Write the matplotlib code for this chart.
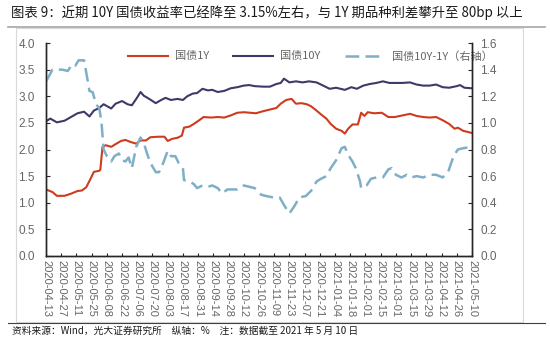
import matplotlib
matplotlib.use("Agg")
import matplotlib.pyplot as plt
from matplotlib.patches import Rectangle
from matplotlib.lines import Line2D
import pandas as pd

plt.rcParams['font.family'] = ['Noto Sans CJK SC', 'DejaVu Sans']

# ---- data ----
dates_10y = ['2020-04-13', '2020-04-17', '2020-04-23', '2020-04-30', '2020-05-06', '2020-05-12',
             '2020-05-18', '2020-05-23', '2020-05-27', '2020-06-01', '2020-06-05', '2020-06-12',
             '2020-06-16', '2020-06-22', '2020-06-27', '2020-07-01', '2020-07-06', '2020-07-09',
             '2020-07-12', '2020-07-17', '2020-07-23', '2020-07-28', '2020-08-01', '2020-08-06',
             '2020-08-12', '2020-08-17', '2020-08-21', '2020-08-26', '2020-08-30', '2020-09-04',
             '2020-09-09', '2020-09-13', '2020-09-18', '2020-09-24', '2020-09-30', '2020-10-06',
             '2020-10-12', '2020-10-17', '2020-10-22', '2020-10-30', '2020-11-05', '2020-11-11',
             '2020-11-15', '2020-11-18', '2020-11-23', '2020-11-29', '2020-12-05', '2020-12-11',
             '2020-12-18', '2020-12-24', '2020-12-30', '2021-01-05', '2021-01-13', '2021-01-19',
             '2021-01-24', '2021-01-30', '2021-02-05', '2021-02-11', '2021-02-17', '2021-02-23',
             '2021-03-01', '2021-03-07', '2021-03-14', '2021-03-20', '2021-03-26', '2021-04-01',
             '2021-04-07', '2021-04-13', '2021-04-19', '2021-04-26', '2021-04-29', '2021-05-03',
             '2021-05-10']
gz_10y = [2.53, 2.58, 2.51, 2.54, 2.61, 2.68, 2.71, 2.62, 2.73, 2.78, 2.85, 2.77,
          2.86, 2.91, 2.85, 2.83, 2.98, 3.08, 3.01, 2.95, 2.87, 2.93, 2.97, 2.93,
          2.95, 2.93, 3.00, 3.05, 3.06, 3.14, 3.11, 3.12, 3.08, 3.10, 3.15, 3.17,
          3.20, 3.21, 3.19, 3.18, 3.18, 3.23, 3.25, 3.33, 3.26, 3.28, 3.26, 3.28,
          3.26, 3.20, 3.14, 3.16, 3.12, 3.17, 3.14, 3.20, 3.23, 3.25, 3.28, 3.25,
          3.25, 3.25, 3.26, 3.22, 3.20, 3.20, 3.22, 3.17, 3.16, 3.19, 3.21, 3.16,
          3.15]

dates_1y = ['2020-04-13', '2020-04-19', '2020-04-23', '2020-04-30', '2020-05-06', '2020-05-12',
            '2020-05-16', '2020-05-20', '2020-05-24', '2020-05-27', '2020-06-01', '2020-06-02',
            '2020-06-04', '2020-06-07', '2020-06-12', '2020-06-16', '2020-06-21', '2020-06-25',
            '2020-06-30', '2020-07-05', '2020-07-09', '2020-07-14', '2020-07-18', '2020-07-25',
            '2020-07-31', '2020-08-03', '2020-08-07', '2020-08-12', '2020-08-16', '2020-08-18',
            '2020-08-23', '2020-08-27', '2020-09-01', '2020-09-05', '2020-09-12', '2020-09-18',
            '2020-09-24', '2020-09-30', '2020-10-06', '2020-10-12', '2020-10-18', '2020-10-23',
            '2020-10-30', '2020-11-05', '2020-11-11', '2020-11-15', '2020-11-20', '2020-11-25',
            '2020-11-29', '2020-12-04', '2020-12-09', '2020-12-13', '2020-12-18', '2020-12-22',
            '2020-12-27', '2020-12-31', '2021-01-05', '2021-01-10', '2021-01-13', '2021-01-16',
            '2021-01-20', '2021-01-25', '2021-01-28', '2021-01-31', '2021-02-03', '2021-02-09',
            '2021-02-16', '2021-02-22', '2021-02-28', '2021-03-07', '2021-03-14', '2021-03-20',
            '2021-03-26', '2021-04-01', '2021-04-07', '2021-04-13', '2021-04-19', '2021-04-24',
            '2021-04-27', '2021-05-02', '2021-05-10']
gz_1y = [1.25, 1.20, 1.13, 1.13, 1.17, 1.22, 1.23, 1.29, 1.45, 1.58, 1.60, 1.62,
         2.05, 2.08, 2.05, 2.10, 2.16, 2.18, 2.14, 2.11, 2.17, 2.17, 2.23, 2.24,
         2.24, 2.16, 2.20, 2.22, 2.26, 2.41, 2.43, 2.48, 2.55, 2.61, 2.60, 2.61,
         2.60, 2.64, 2.69, 2.70, 2.69, 2.68, 2.72, 2.75, 2.78, 2.86, 2.93, 2.95,
         2.86, 2.87, 2.85, 2.81, 2.73, 2.66, 2.58, 2.48, 2.39, 2.35, 2.30, 2.39,
         2.47, 2.47, 2.69, 2.63, 2.70, 2.68, 2.69, 2.61, 2.61, 2.64, 2.67, 2.63,
         2.61, 2.60, 2.61, 2.55, 2.48, 2.39, 2.41, 2.35, 2.31]

dates_spread = ['2020-04-13', '2020-04-19', '2020-04-23', '2020-04-28', '2020-05-03', '2020-05-07',
                '2020-05-10', '2020-05-13', '2020-05-18', '2020-05-20', '2020-05-23', '2020-05-26',
                '2020-05-29', '2020-06-01', '2020-06-03', '2020-06-05', '2020-06-08', '2020-06-12',
                '2020-06-15', '2020-06-19', '2020-06-22', '2020-06-25', '2020-06-28', '2020-07-01',
                '2020-07-05', '2020-07-09', '2020-07-12', '2020-07-15', '2020-07-18', '2020-07-23',
                '2020-07-26', '2020-07-29', '2020-08-03', '2020-08-06', '2020-08-10', '2020-08-13',
                '2020-08-17', '2020-08-18', '2020-08-23', '2020-08-27', '2020-08-30', '2020-09-04',
                '2020-09-09', '2020-09-13', '2020-09-18', '2020-09-22', '2020-09-27', '2020-10-02',
                '2020-10-06', '2020-10-12', '2020-10-17', '2020-10-22', '2020-10-28', '2020-11-02',
                '2020-11-08', '2020-11-14', '2020-11-19', '2020-11-23', '2020-11-28', '2020-12-02',
                '2020-12-08', '2020-12-13', '2020-12-18', '2020-12-22', '2020-12-27', '2020-12-31',
                '2021-01-05', '2021-01-10', '2021-01-13', '2021-01-16', '2021-01-20', '2021-01-23',
                '2021-01-27', '2021-01-28', '2021-02-02', '2021-02-06', '2021-02-11', '2021-02-17',
                '2021-02-22', '2021-02-25', '2021-03-01', '2021-03-06', '2021-03-11', '2021-03-15',
                '2021-03-20', '2021-03-26', '2021-04-01', '2021-04-07', '2021-04-13', '2021-04-18',
                '2021-04-23', '2021-04-27', '2021-05-02', '2021-05-10']
spread = [1.31, 1.40, 1.40, 1.40, 1.39, 1.44, 1.43, 1.47, 1.47, 1.38, 1.24, 1.23,
          1.14, 1.11, 1.01, 0.80, 0.75, 0.71, 0.75, 0.77, 0.72, 0.71, 0.74, 0.66,
          0.82, 0.89, 0.85, 0.77, 0.70, 0.63, 0.63, 0.68, 0.79, 0.75, 0.75, 0.70,
          0.66, 0.57, 0.56, 0.54, 0.51, 0.53, 0.52, 0.53, 0.51, 0.47, 0.50, 0.50,
          0.50, 0.53, 0.52, 0.51, 0.46, 0.45, 0.44, 0.44, 0.37, 0.32, 0.38, 0.44,
          0.45, 0.49, 0.56, 0.58, 0.60, 0.66, 0.72, 0.81, 0.82, 0.76, 0.71, 0.66,
          0.56, 0.51, 0.53, 0.58, 0.59, 0.59, 0.65, 0.66, 0.61, 0.59, 0.61, 0.59,
          0.60, 0.59, 0.61, 0.61, 0.59, 0.63, 0.75, 0.80, 0.81, 0.82]

start, end = '2020-04-13', '2021-05-10'
title = '图表 9：近期 10Y 国债收益率已经降至 3.15%左右，与 1Y 期品种利差攀升至 80bp 以上'
footer = '资料来源：Wind，光大证券研究所　纵轴：%　注：数据截至 2021 年 5 月 10 日'

c_1y = '#CF3B1D'
c_10y = '#3E3A68'
c_spread = '#7EAFC6'
gray = '#666666'
num_font = ['Liberation Sans', 'DejaVu Sans']

fig = plt.figure(figsize=(5.5, 3.38), dpi=100)

# frame, title and footer
fig.patches.append(Rectangle((16 / 550, 1 - 322 / 338), (523 - 16) / 550, (322 - 28) / 338,
                             transform=fig.transFigure, fill=False, edgecolor='#D9D9D9', lw=0.8))
fig.add_artist(Line2D([8 / 550, 545 / 550], [1 - 27 / 338] * 2, color='#A6A6A6', lw=1.2))
fig.add_artist(Line2D([8 / 550, 545 / 550], [1 - 323 / 338] * 2, color='#404040', lw=0.8))
fig.text(11 / 550, 1 - 13 / 338, title, fontsize=9.6, va='center', ha='left', color='#1a1a1a')
fig.text(12 / 550, 1 - 331 / 338, footer, fontsize=7, va='center', ha='left', color='#1a1a1a')

ax = fig.add_axes([46 / 550, 1 - 256 / 338, 426 / 550, 213 / 338])
ax2 = ax.twinx()

d1 = pd.to_datetime(dates_1y)
d10 = pd.to_datetime(dates_10y)
ds = pd.to_datetime(dates_spread)

l1, = ax.plot(d1, gz_1y, color=c_1y, lw=1.5, label='国债1Y')
l2, = ax.plot(d10, gz_10y, color=c_10y, lw=1.5, label='国债10Y')
l3, = ax2.plot(ds, spread, color=c_spread, lw=1.8, dashes=(5.5, 2.5), label='国债10Y-1Y（右轴）')

ax.set_ylim(0, 4)
ax.set_yticks([0, 0.5, 1, 1.5, 2, 2.5, 3, 3.5, 4])
ax.set_yticklabels([f'{v:.1f}' for v in ax.get_yticks()])
ax2.set_ylim(0, 1.6)
ax2.set_yticks([0, 0.2, 0.4, 0.6, 0.8, 1.0, 1.2, 1.4, 1.6])
ax2.set_yticklabels([f'{v:.1f}' for v in ax2.get_yticks()])

ax.set_xlim(pd.Timestamp(start), pd.Timestamp(end))
xt = pd.date_range(start, end, freq='14D')
ax.set_xticks(xt)
ax.set_xticklabels([t.strftime('%Y-%m-%d') for t in xt], rotation=270, fontsize=8,
                   family=num_font, color=gray)

for a in (ax, ax2):
    a.spines['top'].set_visible(False)
    for s in ('left', 'right', 'bottom'):
        a.spines[s].set_color('#262626')
        a.spines[s].set_linewidth(1.0)
    a.tick_params(direction='in', length=3, width=0.8, color='#262626')
for lab in ax.get_yticklabels() + ax2.get_yticklabels():
    lab.set_family(num_font)
    lab.set_fontsize(8.5)
    lab.set_color(gray)
ax.tick_params(axis='y', pad=8)
ax2.tick_params(axis='y', pad=6)
ax.tick_params(axis='x', pad=3, length=2.5)

leg = ax.legend(handles=[l1, l2, l3], loc='upper center', bbox_to_anchor=(0.62, 1.01),
                ncol=3, frameon=False, fontsize=8, handlelength=3.6, columnspacing=2.2,
                handletextpad=0.6)
for t in leg.get_texts():
    t.set_color(gray)

fig.savefig('out.png', dpi=100)
